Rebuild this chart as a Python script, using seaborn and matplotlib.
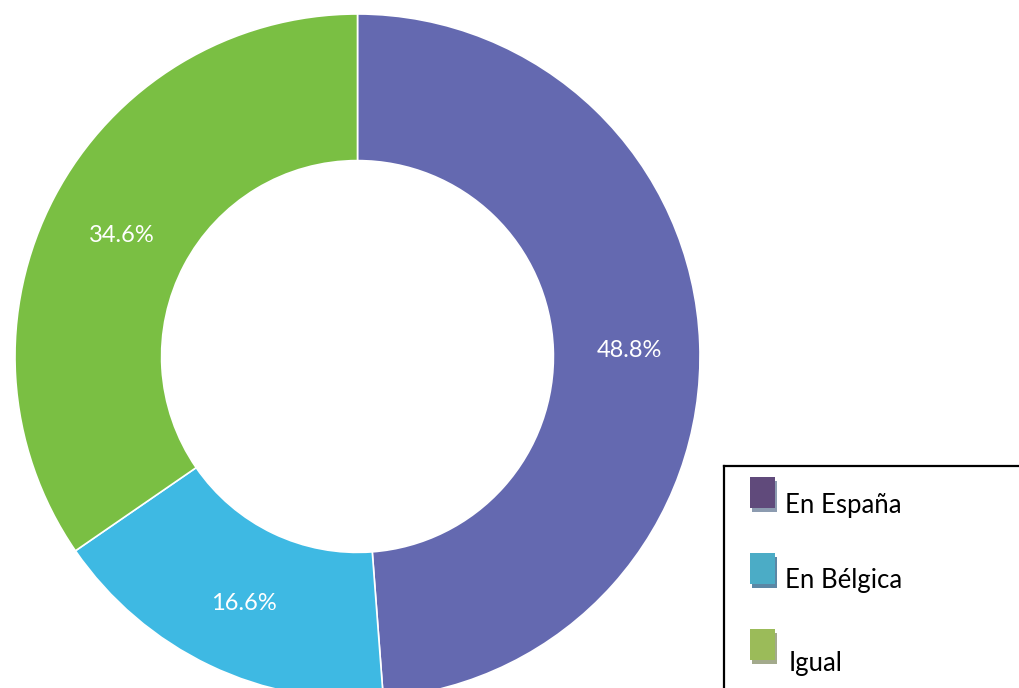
import matplotlib.pyplot as plt
import matplotlib.patches as mpatches
import seaborn as sns

# datos
categorias = ["En España", "En Bélgica", "Igual"]
porcentajes = [48.8, 16.6, 34.6]
colores_anillo = ["#6469b0", "#3eb9e3", "#7abf43"]
colores_leyenda = ["#604a7b", "#4bacc6", "#9bbb59"]
colores_sombra = ["#8c9bb0", "#5b87a5", "#a3aa8c"]

sns.set_style("white")
plt.rcParams['font.family'] = ['Lato', 'DejaVu Sans']

W, H = 1019, 688
fig = plt.figure(figsize=(W / 100, H / 100), dpi=100)

# anillo (centro y radio en pixeles)
cx, cy, r = 357.5, 356.5, 342.5
ax = fig.add_axes([(cx - r) / W, (H - cy - r) / H, 2 * r / W, 2 * r / H])
wedges, texts, autotexts = ax.pie(
    porcentajes,
    colors=sns.color_palette(colores_anillo),
    startangle=90,
    counterclock=False,
    radius=1,
    autopct='%1.1f%%',
    pctdistance=0.786,
    wedgeprops=dict(width=0.428, edgecolor='white', linewidth=1.2),
    textprops=dict(color='white', fontsize=17),
)
# las etiquetas del original quedan un poco mas abajo
for t in autotexts:
    x, y = t.get_position()
    t.set_position((x + 0.008, y - 0.013))
ax.set_xlim(-1, 1)
ax.set_ylim(-1, 1)

# leyenda a mano (caja cortada por el borde derecho e inferior)
lx0, ly0 = 724, 466
lax = fig.add_axes([lx0 / W, 0, (W - lx0) / W, (H - ly0) / H])
lax.set_xlim(0, W - lx0)
lax.set_ylim(H - ly0, 0)
lax.set_xticks([])
lax.set_yticks([])
for lado in ['right', 'bottom']:
    lax.spines[lado].set_visible(False)
for lado in ['left', 'top']:
    lax.spines[lado].set_color('black')
    lax.spines[lado].set_linewidth(1.6)

cuadro_y = [11, 87, 163]
texto_y = [47, 122, 205]
texto_x = [61, 61, 65]
for i, cat in enumerate(categorias):
    lax.add_patch(mpatches.Rectangle((28, cuadro_y[i] + 4), 25, 31, color=colores_sombra[i], lw=0))
    lax.add_patch(mpatches.Rectangle((26, cuadro_y[i]), 25, 31, color=colores_leyenda[i], lw=0))
    lax.text(texto_x[i], texto_y[i], cat, fontsize=18.5, va='baseline', ha='left', color='black')

fig.savefig("out.png", dpi=100)
